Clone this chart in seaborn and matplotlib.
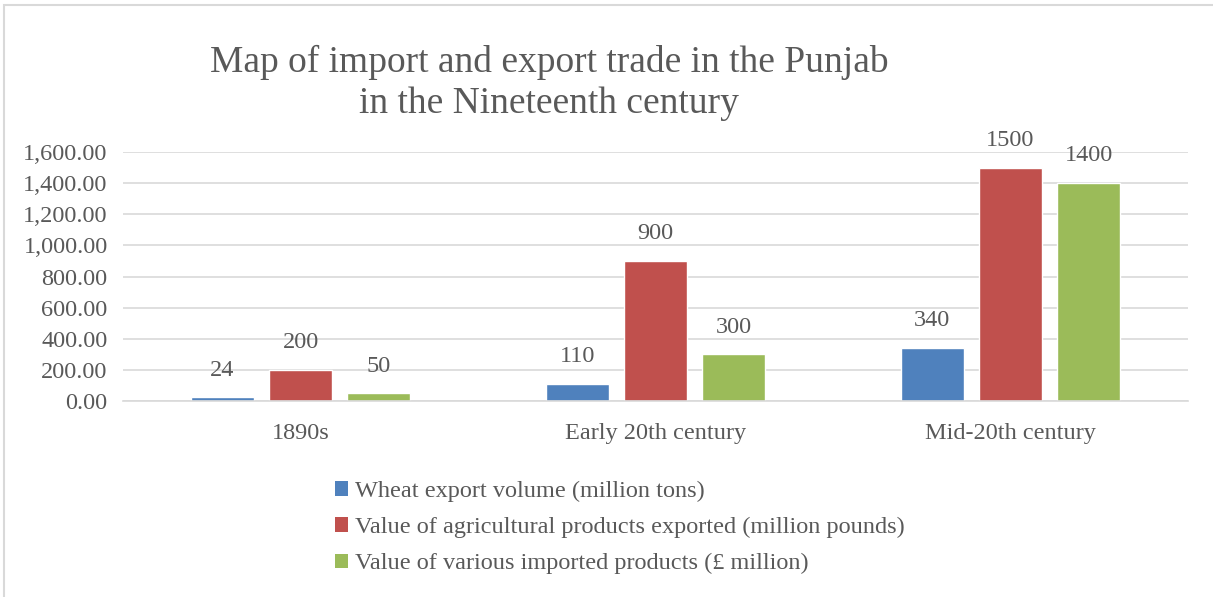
import seaborn as sns
import pandas as pd
import matplotlib.pyplot as plt
from matplotlib.patches import Patch, Rectangle
from matplotlib.ticker import FuncFormatter

periods = ["1890s", "Early 20th century", "Mid-20th century"]
series = ["Wheat export volume (million tons)",
          "Value of agricultural products exported (million pounds)",
          "Value of various imported products (£ million)"]
wheat = [24, 110, 340]
agri_exports = [200, 900, 1500]
imports = [50, 300, 1400]
colors = ["#4F81BD", "#C0504D", "#9BBB59"]

rows = []
for name, vals in zip(series, [wheat, agri_exports, imports]):
    for p, v in zip(periods, vals):
        rows.append({"period": p, "series": name, "value": v})
df = pd.DataFrame(rows)

sns.set_style("white")
plt.rcParams["font.family"] = ["Liberation Serif", "DejaVu Serif"]

fig = plt.figure(figsize=(12.13, 5.97), dpi=100)
ax = fig.add_axes([0.1014, 0.3283, 0.878, 0.4171])

sns.barplot(data=df, x="period", y="value", hue="series", order=periods,
            hue_order=series, palette=colors, width=0.66, gap=0.2,
            saturation=1, legend=False, ax=ax)

txt = "#595959"
fs = 17.5
for cont in ax.containers:
    ax.bar_label(cont, labels=[f"{int(b.get_height())}" for b in cont],
                 padding=12, fontsize=fs, color=txt)

ax.set_ylim(0, 1600)
ax.set_yticks(range(0, 1601, 200))
ax.yaxis.set_major_formatter(FuncFormatter(lambda v, _: f"{v:,.2f}"))
ax.grid(axis="y", color="#D9D9D9", lw=1.2)
ax.set_axisbelow(True)
sns.despine(ax=ax, left=True, top=True, right=True)
ax.spines["bottom"].set_color("#D9D9D9")
ax.spines["bottom"].set_linewidth(1.2)
ax.tick_params(axis="both", length=0, labelsize=fs, labelcolor=txt)
ax.tick_params(axis="y", pad=11)
ax.tick_params(axis="x", pad=16)
ax.set_xlabel("")
ax.set_ylabel("")

fig.text(549 / 1213, 1 - 83 / 597,
         "Map of import and export trade in the Punjab\nin the Nineteenth century",
         ha="center", va="center", fontsize=27, color=txt, linespacing=1.22)

handles = [Patch(facecolor=c, edgecolor="none") for c in colors]
fig.legend(handles, series, loc="upper left", bbox_to_anchor=(325 / 1213, 1 - 471 / 597),
           frameon=False, fontsize=fs, labelcolor=txt, handlelength=0.55,
           handleheight=0.55, handletextpad=0.3, labelspacing=0.62,
           borderaxespad=0)

fig.patches.append(Rectangle((4 / 1213, -0.1), 2, 1.1 - 5 / 597,
                             transform=fig.transFigure, fill=False,
                             edgecolor="#D9D9D9", lw=1.5))

fig.savefig("out.png", dpi=100, facecolor="white")
